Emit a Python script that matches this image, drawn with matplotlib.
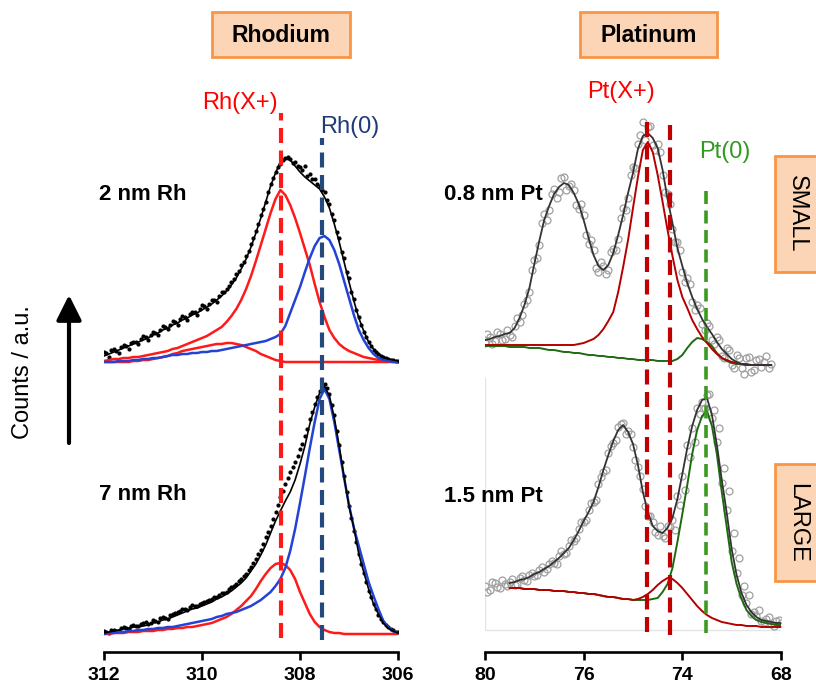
import numpy as np
import matplotlib
matplotlib.use('Agg')
import matplotlib.pyplot as plt
from matplotlib.patches import Rectangle

plt.rcParams['font.family'] = ['Liberation Sans', 'DejaVu Sans']

# ---- Rh 3d region, binding energy (eV), 0.1 eV steps ----
rh_be = np.round(np.arange(312.0, 305.95, -0.1), 1)
rh_be_half = np.round(np.arange(311.95, 306.0, -0.1), 2)

rh_small_data = [10, 5, 13, 9, 17, 13, 20, 18, 26, 22, 30, 27, 36, 33, 41, 37, 46, 42, 50, 47,
                 57, 53, 62, 60, 70, 73, 80, 88, 97, 106, 118, 131, 147, 160, 178, 190, 198, 204, 203, 200,
                 195, 196, 188, 183, 176, 170, 158, 142, 124, 104, 84, 63, 45, 30, 20, 12, 8, 5, 3, 2, 1]
rh_small_data2 = [9, 12, 11, 15, 16, 19, 20, 23, 25, 27, 29, 32, 35, 37, 40, 43, 45, 48, 50, 53,
                  56, 58, 62, 66, 70, 76, 83, 91, 100, 111, 124, 138, 153, 170, 184, 195, 202, 205, 199, 196,
                  192, 186, 183, 178, 172, 162, 148, 130, 110, 90, 70, 52, 37, 25, 16, 10, 6, 4, 2, 1]
rh_small_fit = [6, 8, 10, 12, 14, 16, 18, 20, 22, 24, 27, 29, 32, 34, 37, 39, 42, 44, 47, 49,
                52, 55, 58, 62, 66, 71, 77, 84, 93, 103, 115, 129, 144, 160, 176, 189, 200, 203, 202, 196,
                190, 185, 181, 177, 173, 165, 154, 138, 120, 100, 80, 61, 44, 31, 20, 13, 8, 5, 3, 2, 1]
rh_small_ox = [1, 2, 3, 3, 4, 4, 5, 5, 6, 7, 8, 9, 10, 11, 13, 14, 16, 18, 20, 22,
               24, 26, 29, 32, 35, 40, 46, 53, 62, 73, 86, 101, 117, 133, 149, 163, 172, 167, 157, 144,
               129, 113, 97, 78, 60, 45, 32, 24, 18, 14, 11, 9, 7, 5, 4, 3, 2, 1, 1, 1, 0]
rh_small_sat = [0, 0, 0, 0, 0, 0, 1, 1, 2, 2, 3, 4, 5, 6, 8, 9, 11, 12, 13, 14,
                15, 16, 17, 18, 18, 19, 19, 18, 17, 15, 13, 11, 8, 6, 4, 2, 1, 0, 0, 0,
                0, 0, 0, 0, 0, 0, 0, 0, 0, 0, 0, 0, 0, 0, 0, 0, 0, 0, 0, 0, 0]
rh_small_met = [0, 0, 0, 1, 1, 1, 2, 2, 3, 3, 4, 4, 5, 6, 7, 7, 8, 8, 9, 9,
                10, 10, 11, 11, 12, 13, 14, 15, 16, 17, 18, 19, 20, 21, 23, 25, 28, 36, 49, 62,
                75, 90, 104, 116, 124, 126, 122, 112, 98, 81, 64, 47, 32, 22, 14, 8, 4, 2, 1, 0, 0]

rh_large_data = [3, 1, 4, 3, 7, 5, 9, 8, 11, 10, 14, 12, 17, 15, 20, 22, 25, 24, 29, 28,
                 31, 33, 35, 37, 41, 42, 47, 50, 55, 60, 67, 75, 84, 97, 108, 122, 137, 150, 162, 172,
                 185, 198, 215, 230, 243, 250, 240, 219, 189, 158, 128, 103, 80, 61, 43, 30, 19, 12, 7, 4, 2]
rh_large_data2 = [2, 4, 3, 6, 6, 8, 8, 10, 12, 11, 13, 16, 16, 19, 21, 23, 25, 27, 28, 30,
                  32, 34, 37, 39, 41, 45, 48, 53, 58, 64, 71, 80, 90, 102, 115, 129, 143, 156, 167, 178,
                  190, 205, 222, 237, 248, 246, 229, 203, 172, 142, 116, 92, 70, 52, 37, 25, 15, 9, 5, 2]
rh_large_fit = [1, 2, 3, 4, 5, 6, 7, 7, 8, 9, 11, 12, 14, 15, 17, 19, 21, 23, 25, 26,
                28, 30, 32, 35, 37, 40, 43, 47, 51, 56, 63, 70, 79, 89, 101, 113, 123, 133, 142, 154,
                170, 188, 210, 227, 241, 248, 238, 216, 188, 157, 128, 106, 80, 62, 45, 30, 20, 11, 6, 3, 1]
rh_large_ox = [0, 0, 1, 1, 1, 2, 2, 2, 3, 3, 3, 4, 4, 5, 5, 6, 6, 7, 7, 8,
               9, 10, 11, 13, 15, 17, 20, 24, 28, 33, 38, 45, 53, 60, 66, 70, 71, 69, 64, 55,
               42, 31, 20, 12, 7, 4, 2, 1, 1, 0, 0, 0, 0, 0, 0, 0, 0, 0, 0, 0, 0]
rh_large_met = [0, 1, 1, 2, 2, 3, 3, 4, 4, 5, 5, 6, 6, 7, 7, 8, 9, 10, 11, 12,
                13, 14, 15, 17, 18, 20, 21, 22, 24, 26, 28, 31, 34, 38, 42, 48, 55, 66, 83, 105,
                131, 158, 186, 212, 235, 245, 235, 212, 184, 156, 129, 106, 88, 70, 52, 38, 25, 13, 7, 3, 1]

rh_ox_pos = 308.39
rh_met_pos = 307.55

# ---- Pt 4f region, 0.2 eV steps ----
pt_be = np.round(np.arange(80.0, 67.9, -0.2), 1)
pt_be_half = np.round(np.arange(79.9, 68.0, -0.2), 1)

pt_small_data = [27, 33, 29, 36, 31, 35, 44, 48, 66, 78, 110, 125, 156, 160, 181, 178, 193, 184, 180, 161,
                 155, 126, 120, 98, 104, 100, 121, 131, 162, 172, 203, 226, 248, 243, 225, 226, 195, 176, 141, 128,
                 98, 92, 68, 65, 46, 47, 30, 33, 14, 22, 5, 15, 2, 12, -2, 10, 3, 14, 6]
pt_small_data2 = [36, 26, 38, 30, 40, 33, 52, 55, 70, 100, 112, 147, 150, 176, 172, 192, 180, 186, 165, 166,
                  135, 130, 102, 108, 96, 118, 120, 152, 160, 195, 202, 235, 230, 244, 220, 218, 178, 166, 128, 120,
                  88, 86, 60, 62, 40, 44, 26, 30, 12, 20, 2, 12, -4, 13, 0, 11, 8, 2]
pt_small_fit = [30, 31, 33, 34, 36, 37, 42, 52, 65, 82, 106, 129, 150, 164, 176, 183, 187, 185, 177, 166,
                150, 132, 115, 104, 100, 105, 117, 135, 155, 177, 197, 221, 234, 237, 232, 222, 200, 171, 147, 122,
                104, 87, 73, 61, 51, 43, 36, 28, 21, 16, 11, 8, 6, 5, 5, 5, 5, 5, 5]
pt_small_ox = [25, 25, 25, 25, 25, 25, 25, 25, 25, 25, 25, 25, 25, 25, 25, 25, 25, 25, 25, 26,
               27, 29, 31, 35, 41, 49, 58, 78, 103, 130, 162, 193, 220, 228, 218, 195, 168, 140, 114, 90,
               73, 62, 50, 41, 33, 27, 21, 16, 12, 10, 8, 7, 6, 6, 5, 5, 5, 5, 5]
pt_small_met = [24, 24, 24, 24, 24, 23, 23, 23, 23, 22, 22, 22, 21, 20, 20, 19, 18, 18, 17, 17,
                16, 15, 15, 14, 14, 13, 13, 12, 12, 11, 11, 10, 10, 10, 10, 9, 9, 9, 9, 11,
                15, 22, 28, 32, 31, 28, 24, 17, 12, 9, 7, 6, 6, 5, 5, 5, 5, 5, 5]

pt_large_data = [44, 40, 47, 42, 46, 48, 45, 52, 50, 55, 54, 60, 58, 66, 67, 74, 76, 84, 89, 101,
                 108, 120, 128, 146, 158, 177, 187, 203, 207, 199, 183, 163, 141, 114, 108, 95, 94, 104, 110, 134,
                 154, 185, 202, 222, 228, 235, 212, 188, 147, 120, 79, 57, 35, 27, 16, 14, 9, 11, 6, 9, 7]
pt_large_data2 = [38, 48, 43, 50, 44, 51, 46, 54, 49, 57, 55, 63, 61, 69, 66, 79, 77, 90, 92, 108,
                  110, 127, 130, 153, 160, 184, 190, 206, 196, 196, 170, 154, 124, 114, 98, 104, 92, 103, 100, 125,
                  140, 173, 188, 216, 222, 236, 220, 202, 162, 139, 97, 72, 44, 35, 18, 20, 8, 13, 4, 10]
pt_large_fit = [47, 48, 50, 51, 53, 56, 58, 61, 64, 68, 72, 77, 82, 90, 99, 109, 118, 128, 143, 160,
                175, 189, 200, 205, 198, 186, 165, 138, 118, 104, 99, 97, 102, 112, 131, 156, 182, 204, 220, 230,
                232, 215, 185, 150, 117, 81, 55, 37, 25, 18, 13, 10, 9, 8, 7, 7]
pt_large_ox = [42, 42, 42, 41, 41, 41, 40, 40, 40, 39, 39, 39, 38, 38, 37, 37, 36, 36, 35, 34,
               33, 33, 32, 31, 31, 30, 31, 33, 36, 40, 45, 49, 52, 51, 47, 42, 36, 30, 24, 19,
               15, 12, 10, 8, 7, 6, 5, 5, 4, 4, 4, 3, 3, 3, 3, 3]
pt_large_met = [42, 42, 42, 41, 41, 41, 40, 40, 40, 39, 39, 39, 38, 38, 37, 37, 36, 36, 35, 34,
                33, 33, 32, 31, 31, 30, 30, 30, 30, 31, 32, 38, 46, 62, 88, 116, 145, 176, 200, 214,
                219, 204, 176, 138, 103, 68, 46, 31, 20, 14, 10, 8, 7, 6, 5, 5]

pt_ox_pos = [73.43, 72.5]
pt_met_pos = 71.04

W, H = 816, 688


def fx(x):
    return x / W


def fy(y):
    return 1 - y / H


fig = plt.figure(figsize=(W / 100, H / 100), dpi=100)
axL = fig.add_axes([fx(104), fy(652), 294 / W, 572 / H])
axR = fig.add_axes([fx(485), fy(652), 296 / W, 572 / H])

RED = '#ff1a1a'
BLUE = '#2342d6'
NAVY = '#23497f'
DRED = '#b40000'
DGREEN = '#1d6b10'
GREEN = '#3b9a20'
DASH = (0, (3.6, 1.8))

# Rh spectra (small on top, large below)
for off, data, data2, fit, comps in [
        (290, rh_small_data, rh_small_data2, rh_small_fit,
         [(rh_small_ox, RED), (rh_small_sat, RED), (rh_small_met, BLUE)]),
        (18, rh_large_data, rh_large_data2, rh_large_fit,
         [(rh_large_ox, RED), (rh_large_met, BLUE)])]:
    axL.plot(rh_be, np.array(data) + off, 'o', color='black', markersize=2.0, zorder=2)
    axL.plot(rh_be_half, np.array(data2) + off, 'o', color='black', markersize=2.0, zorder=2)
    for comp, c in comps:
        axL.plot(rh_be, np.array(comp) + off, color=c, lw=1.8, zorder=3)
    axL.plot(rh_be, np.array(fit) + off, color='black', lw=1.2, zorder=4)

axL.vlines(rh_ox_pos, 14, 539, colors=RED, lw=3, linestyles=DASH, zorder=6)
axL.vlines(rh_met_pos, 12, 514, colors=NAVY, lw=3, linestyles=DASH, zorder=6)

# Pt spectra
circ = dict(mfc='none', mec='#a0a0a0', markersize=5, mew=0.9, zorder=2)
axR.plot(pt_be[:59], np.array(pt_small_data) + 282, 'o', **circ)
axR.plot(pt_be_half[:58], np.array(pt_small_data2) + 282, 'o', **circ)
axR.plot(pt_be[:59], np.array(pt_small_met) + 282, color=DGREEN, lw=1.4, zorder=3)
axR.plot(pt_be[:59], np.array(pt_small_ox) + 282, color=DRED, lw=1.4, zorder=3)
axR.plot(pt_be[:59], np.array(pt_small_fit) + 282, color='#333333', lw=1.3, zorder=4)

axR.plot([80, 80, 68], [274, 22, 22], color='#e4e4e4', lw=1, zorder=1)
axR.plot(pt_be, np.array(pt_large_data) + 22, 'o', **circ)
axR.plot(pt_be_half, np.array(pt_large_data2) + 22, 'o', **circ)
axR.plot(pt_be[5:], np.array(pt_large_met) + 22, color=DGREEN, lw=1.4, zorder=3)
axR.plot(pt_be[5:], np.array(pt_large_ox) + 22, color=DRED, lw=1.4, zorder=3)
axR.plot(pt_be[5:], np.array(pt_large_fit) + 22, color='#333333', lw=1.3, zorder=4)

axR.vlines(pt_ox_pos[0], 20, 537, colors='#c00000', lw=3, linestyles=DASH, zorder=6)
axR.vlines(pt_ox_pos[1], 17, 534, colors='#c00000', lw=3, linestyles=DASH, zorder=6)
axR.vlines(pt_met_pos, 19, 467, colors=GREEN, lw=2.6, linestyles=DASH, zorder=6)

# axes styling
for ax, lim, ticks, labels in [(axL, (312, 306), [312, 310, 308, 306], ['312', '310', '308', '306']),
                               (axR, (80, 68), [80, 76, 72, 68], ['80', '76', '74', '68'])]:
    ax.set_xlim(*lim)
    ax.set_ylim(0, 572)
    for s in ['top', 'left', 'right']:
        ax.spines[s].set_visible(False)
    ax.spines['bottom'].set_linewidth(1.9)
    ax.set_yticks([])
    ax.set_xticks(ticks)
    ax.set_xticklabels(labels, fontsize=14, fontweight='bold')
    ax.tick_params(axis='x', direction='out', length=6, width=1.9, pad=5)
    ax.patch.set_visible(False)

# header boxes
for x0, x1, label in [(212, 350, 'Rhodium'), (580, 717, 'Platinum')]:
    fig.patches.append(Rectangle((fx(x0), fy(57)), (x1 - x0) / W, 45 / H, transform=fig.transFigure,
                                 facecolor='#fbd5b5', edgecolor='#f79646', lw=2))
    fig.text(fx((x0 + x1) / 2), fy(35), label, ha='center', va='center', fontsize=16.5, fontweight='bold')

for y0, y1, label in [(156, 272, 'SMALL'), (464, 581, 'LARGE')]:
    fig.patches.append(Rectangle((fx(775), fy(y1)), 60 / W, (y1 - y0) / H, transform=fig.transFigure,
                                 facecolor='#fbd5b5', edgecolor='#f79646', lw=2, clip_on=False))
    fig.text(fx(797), fy((y0 + y1) / 2), label, ha='center', va='center', fontsize=17, rotation=-90)

# peak labels
fig.text(fx(240), fy(103), 'Rh(X+)', color='#ff0000', ha='center', va='center', fontsize=17)
fig.text(fx(350), fy(127), 'Rh(0)', color='#1f3a78', ha='center', va='center', fontsize=17)
fig.text(fx(621), fy(92), 'Pt(X+)', color='#ff0000', ha='center', va='center', fontsize=17)
fig.text(fx(725), fy(152), 'Pt(0)', color='#339922', ha='center', va='center', fontsize=17)

# sample labels
fig.text(fx(99), fy(194), '2 nm Rh', ha='left', va='center', fontsize=16, fontweight='bold')
fig.text(fx(99), fy(494), '7 nm Rh', ha='left', va='center', fontsize=16, fontweight='bold')
fig.text(fx(543), fy(194), '0.8 nm Pt', ha='right', va='center', fontsize=16, fontweight='bold')
fig.text(fx(543), fy(496), '1.5 nm Pt', ha='right', va='center', fontsize=16, fontweight='bold')

# intensity axis arrow
fig.text(fx(23), fy(372), 'Counts / a.u.', ha='center', va='center', fontsize=17, rotation=90)
axL.annotate('', xy=(69, H - 295), xytext=(69, H - 443), xycoords='figure pixels',
             textcoords='figure pixels',
             arrowprops=dict(arrowstyle='-|>', lw=3, color='black', mutation_scale=38,
                             shrinkA=0, shrinkB=0))

fig.savefig('out.png', dpi=100)
